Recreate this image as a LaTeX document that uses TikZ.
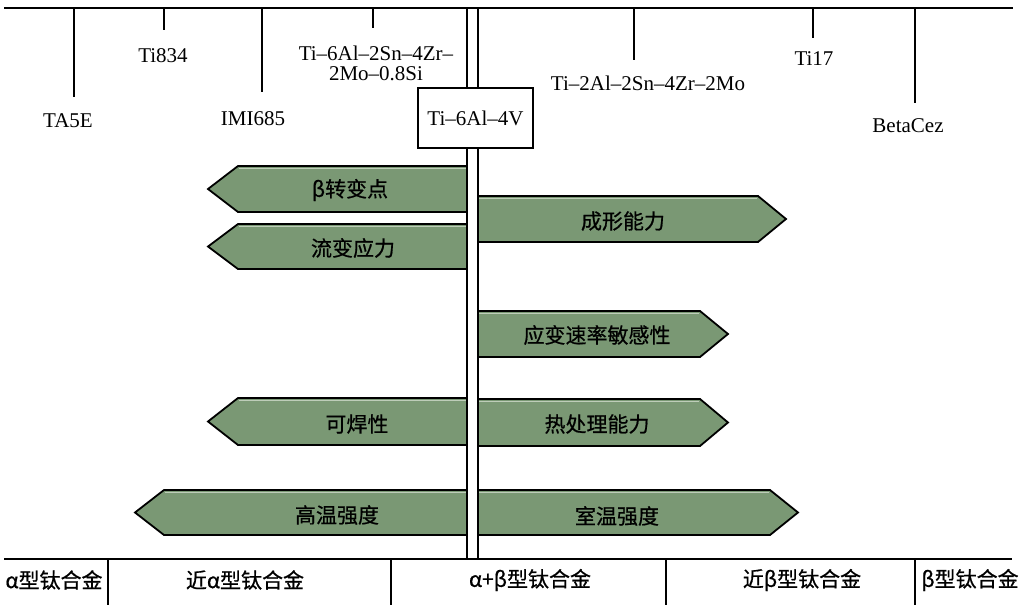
\documentclass[tikz,border=0pt]{standalone}
\usepackage{fontspec}
\setmainfont{Liberation Serif}
\newfontfamily\cjk[FakeBold=0.7]{Noto Sans CJK SC}
\definecolor{signgreen}{RGB}{122,152,116}
\definecolor{signlight}{RGB}{190,205,185}
\begin{document}
\begin{tikzpicture}[x=1pt,y=-1pt,
  lat/.style={font=\fontsize{21}{20}\selectfont, inner sep=0pt},
  zh/.style={font=\cjk\fontsize{21}{21}\selectfont, inner sep=0pt},
  sign/.style={fill=signgreen, draw=black, line width=1.8pt, line join=miter},
  hilite/.style={draw=signlight, line width=1pt},
  rulebar/.style={line width=1.8pt},
  tickline/.style={line width=1.3pt}]
\useasboundingbox (0,0) rectangle (1023,605);

% ---- signs (drawn first, under the double post)
% left signs
\filldraw[sign] (467,166) -- (238,166) -- (208,189) -- (238,212) -- (467,212);
\draw[hilite] (466,168.5) -- (239,168.5);
\filldraw[sign] (467,224) -- (238,224) -- (208,246.5) -- (238,269) -- (467,269);
\draw[hilite] (466,226.5) -- (239,226.5);
\filldraw[sign] (467,398) -- (238,398) -- (208,421.5) -- (238,445) -- (467,445);
\draw[hilite] (466,400.5) -- (239,400.5);
\filldraw[sign] (467,490) -- (164,490) -- (135,512.5) -- (164,535) -- (467,535);
\draw[hilite] (466,492.5) -- (165,492.5);
% right signs
\filldraw[sign] (478,196) -- (758,196) -- (786,219) -- (758,242) -- (478,242);
\draw[hilite] (479,198.5) -- (757,198.5);
\filldraw[sign] (478,311) -- (700,311) -- (728,334) -- (700,357) -- (478,357);
\draw[hilite] (479,313.5) -- (699,313.5);
\filldraw[sign] (478,399) -- (700,399) -- (728,422.5) -- (700,446) -- (478,446);
\draw[hilite] (479,401.5) -- (699,401.5);
\filldraw[sign] (478,490) -- (770,490) -- (798,512.5) -- (770,535) -- (478,535);
\draw[hilite] (479,492.5) -- (769,492.5);

% sign texts
\node[zh] (s1) at (350,190) {β转变点};
\node[zh] (s2) at (353,248) {流变应力};
\node[zh] (s3) at (357,424) {可焊性};
\node[zh] (s4) at (337,515) {高温强度};
\node[zh] (s5) at (623,221) {成形能力};
\node[zh] (s6) at (597,335) {应变速率敏感性};
\node[zh] (s7) at (597,424) {热处理能力};
\node[zh] (s8) at (617,516) {室温强度};

% ---- top scale
\draw[rulebar] (4,8) -- (1013,8);
\draw[tickline] (74,8) -- (74,97);
\draw[tickline] (164,8) -- (164,30);
\draw[tickline] (262,8) -- (262,92);
\draw[tickline] (373,8) -- (373,28);
\draw[tickline] (634,8) -- (634,60);
\draw[tickline] (813,8) -- (813,38);
\draw[tickline] (915,8) -- (915,103);

\node[lat] (ta5e) at (68,121) {TA5E};
\node[lat] (ti834) at (163,56) {Ti834};
\node[lat] (imi) at (253,119) {IMI685};
\node[lat, align=center] (ti6242) at (376,63) {Ti–6Al–2Sn–4Zr–\\2Mo–0.8Si};
\node[lat] (ti2242) at (648,83) {Ti–2Al–2Sn–4Zr–2Mo};
\node[lat] (ti17) at (814,59) {Ti17};
\node[lat] (beta) at (908,126) {BetaCez};

% ---- double post
\draw[rulebar] (467,8) -- (467,559);
\draw[rulebar] (478,8) -- (478,559);

% box
\node[lat, draw, fill=white, line width=1.5pt, minimum width=115pt, minimum height=60pt] (ti64) at (475.5,118) {Ti–6Al–4V};

% ---- bottom scale
\draw[rulebar, line width=2.2pt] (4,559) -- (1012,559);
\draw[tickline] (108,559) -- (108,605);
\draw[tickline] (391,559) -- (391,605);
\draw[tickline] (666,559) -- (666,605);
\draw[tickline] (915,559) -- (915,605);

\node[zh] (c1) at (54,580) {α型钛合金};
\node[zh] (c2) at (245,580) {近α型钛合金};
\node[zh] (c3) at (530,580) {α+β型钛合金};
\node[zh] (c4) at (802,580) {近β型钛合金};
\node[zh] (c5) at (970,580) {β型钛合金};
\end{tikzpicture}
\end{document}
